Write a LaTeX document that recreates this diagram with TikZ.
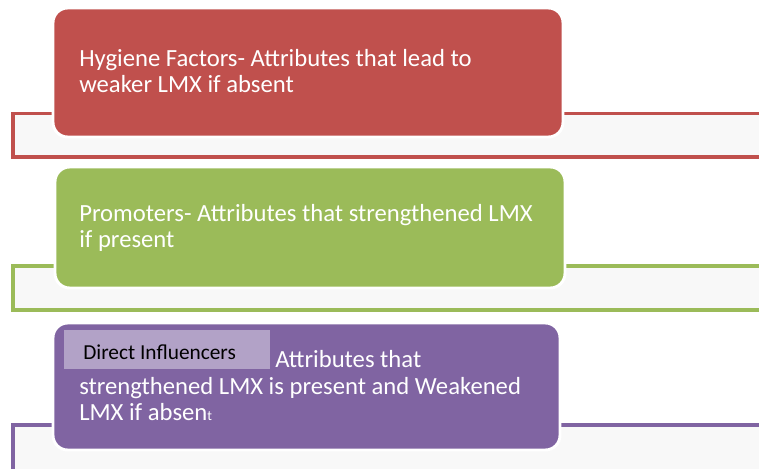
\documentclass[tikz,border=0pt]{standalone}
\usepackage{fontspec}
\newfontfamily\cardfont{Carlito}
\definecolor{cred}{HTML}{C0504D}
\definecolor{cgreen}{HTML}{9BBB59}
\definecolor{cpurple}{HTML}{8064A2}
\definecolor{clabel}{HTML}{B2A2C7}
\definecolor{bggray}{HTML}{F8F8F8}
\tikzset{
  bracket/.style={line width=2.3pt, fill=bggray},
  card/.style={draw=white, line width=2.2pt, rounded corners=11pt, inner sep=0pt},
  cardtxt/.style={text=white, font=\cardfont\fontsize{18.5}{20.25}\selectfont, anchor=base west, inner sep=0pt},
  labelbox/.style={fill=clabel, inner sep=0pt, minimum width=154.5pt, minimum height=29.25pt},
  labeltxt/.style={text=black, font=\cardfont\fontsize{16}{18}\selectfont, anchor=base west, inner sep=0pt},
}
\begin{document}
\begin{tikzpicture}[x=0.75pt,y=-0.75pt]
\useasboundingbox (0,0) rectangle (759,468);
\clip (0,0) rectangle (759,468);
\fill[white] (0,0) rectangle (759,468);
% brackets
\draw[bracket, draw=cred] (13,113.5) rectangle (780,157);
\draw[bracket, draw=cgreen] (13,266) rectangle (780,310);
\draw[bracket, draw=cpurple] (13,425) rectangle (780,490);
% cards
\node[card, fill=cred, minimum width=382.5pt, minimum height=96.75pt] (red) at (308,72.5) {};
\node[card, fill=cgreen, minimum width=382.5pt, minimum height=90.75pt] (green) at (310,227.5) {};
\node[card, fill=cpurple, minimum width=380.25pt, minimum height=95.25pt] (purple) at (306.5,386.5) {};
% texts
\node[cardtxt] (r1) at (79,66) {Hygiene Factors- Attributes that lead to};
\node[cardtxt] (r2) at (79,92) {weaker LMX if absent};
\node[cardtxt] (g1) at (79,221) {Promoters- Attributes that strengthened LMX};
\node[cardtxt] (g2) at (79,247) {if present};
\node[labelbox] (lab) at (167,349.5) {};
\node[labeltxt] (labt) at (83,359) {Direct Influencers};
\node[cardtxt] (p1) at (275,367) {Attributes that};
\node[cardtxt] (p2) at (79,394) {strengthened LMX is present and Weakened};
\node[cardtxt] (p3) at (79,420) {LMX if absen{\fontsize{10.5}{10.5}\selectfont t}};
\end{tikzpicture}
\end{document}
